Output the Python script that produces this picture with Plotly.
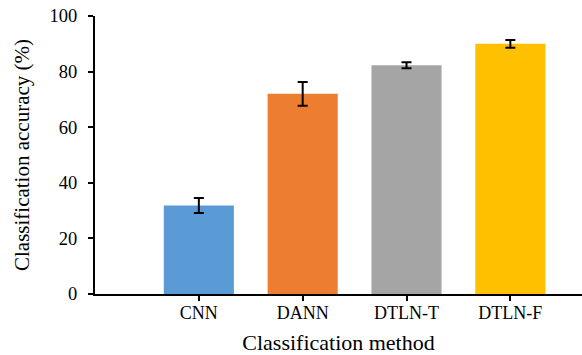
import plotly.graph_objects as go

methods = ["CNN", "DANN", "DTLN-T", "DTLN-F"]
accuracy = [31.8, 72.0, 82.3, 90.0]
errors = [2.7, 4.3, 1.1, 1.4]
colors = ["#5B9BD5", "#ED7D31", "#A5A5A5", "#FFC000"]

fig = go.Figure()
fig.add_trace(go.Bar(
    x=methods, y=accuracy,
    marker=dict(color=colors, line=dict(width=0)),
    width=0.675,
    error_y=dict(type="data", array=errors, visible=True,
                 color="black", thickness=2, width=5),
))

font_family = "Liberation Serif"
fig.update_layout(
    width=582, height=355,
    margin=dict(l=95, r=0, t=16, b=61),
    paper_bgcolor="white", plot_bgcolor="white",
    showlegend=False,
    font=dict(family=font_family, color="black"),
    xaxis=dict(
        type="category", range=[-1.0, 3.69], automargin=False,
        showline=True, linecolor="black", linewidth=2,
        ticks="outside", ticklen=5, tickwidth=2, tickcolor="black",
        tickfont=dict(size=18, family=font_family),
        ticklabelstandoff=-4,
        title=dict(text="Classification method", font=dict(size=22, family=font_family), standoff=14),
        showgrid=False, zeroline=False,
    ),
    yaxis=dict(
        range=[0, 100], tickvals=[0, 20, 40, 60, 80, 100], automargin=False,
        showline=True, linecolor="black", linewidth=2,
        ticks="outside", ticklen=5, tickwidth=2, tickcolor="black",
        tickfont=dict(size=18.5, family=font_family),
        ticklabelstandoff=7, ticklabeloverflow="allow",
        title=dict(text="Classification accuracy (%)", font=dict(size=21, family=font_family), standoff=14),
        showgrid=False, zeroline=False,
    ),
)
fig.write_html("out.html", config={"displayModeBar": False},
               post_script="document.body.style.margin='0';")
